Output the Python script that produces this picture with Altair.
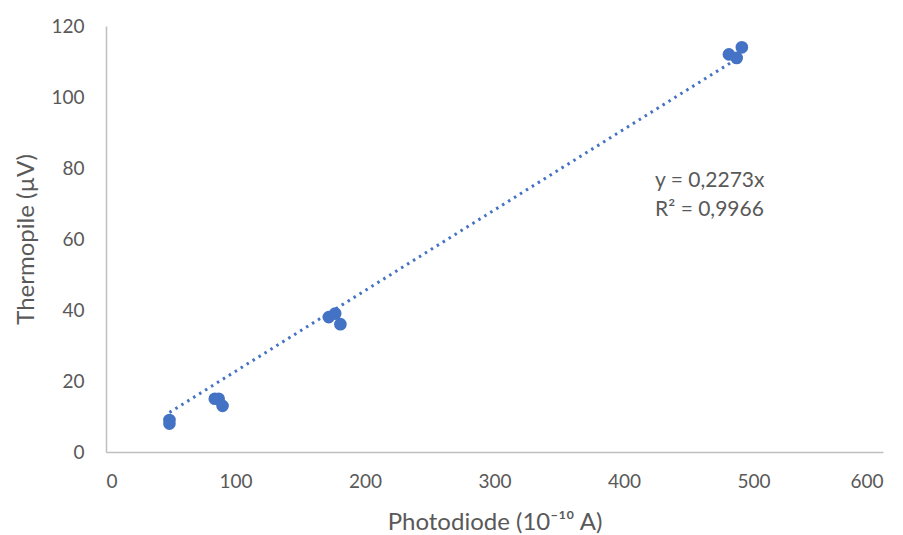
import altair as alt
import pandas as pd

photodiode = [49, 49, 84, 87, 90, 172, 177, 181, 481, 487, 491]
thermopile = [9, 8, 15, 15, 13, 38, 39, 36, 112, 111, 114]

slope = 0.2273
trend_x = [min(photodiode), max(photodiode)]
trend_y = [slope * v for v in trend_x]

eq_lines = ["y = 0,2273x", "R² = 0,9966"]
eq_x = [424, 424]
eq_y = [76.3, 68.1]

df = pd.DataFrame({"x": photodiode, "y": thermopile})
tdf = pd.DataFrame({"x": trend_x, "y": trend_y})
edf = pd.DataFrame({"x": eq_x, "y": eq_y, "t": eq_lines})

FONT = "Lato"
GRAY = "#595959"
BLUE = "#4472C4"

xs = alt.Scale(domain=[0, 600], nice=False, zero=True)
ys = alt.Scale(domain=[0, 120], nice=False, zero=True)

xaxis = alt.Axis(values=[0, 100, 200, 300, 400, 500, 600], title="Photodiode (10⁻¹⁰ A)",
                 grid=False, ticks=False, domainColor="#BFBFBF", domainWidth=1.5,
                 labelFont=FONT, labelFontSize=19, labelColor=GRAY, labelPadding=20,
                 titleFont=FONT, titleFontSize=24, titleColor=GRAY, titleFontWeight="normal",
                 titlePadding=19)
yaxis = alt.Axis(values=[0, 20, 40, 60, 80, 100, 120], title="Thermopile (µV)",
                 grid=False, ticks=False, domainColor="#BFBFBF", domainWidth=1.5,
                 labelFont=FONT, labelFontSize=19, labelColor=GRAY, labelPadding=22,
                 titleFont=FONT, titleFontSize=24, titleColor=GRAY, titleFontWeight="normal",
                 titlePadding=12)

points = alt.Chart(df).mark_circle(size=160, opacity=1, color=BLUE).encode(
    x=alt.X("x:Q", scale=xs, axis=xaxis),
    y=alt.Y("y:Q", scale=ys, axis=yaxis),
)

trend = alt.Chart(tdf).mark_line(color=BLUE, strokeWidth=3, strokeDash=[2.5, 4.5]).encode(
    x=alt.X("x:Q", scale=xs),
    y=alt.Y("y:Q", scale=ys),
)

eq = alt.Chart(edf).mark_text(align="left", baseline="middle", font=FONT, fontSize=21, color=GRAY).encode(
    x=alt.X("x:Q", scale=xs),
    y=alt.Y("y:Q", scale=ys),
    text="t:N",
)

chart = alt.layer(trend, points, eq).properties(
    width=777, height=426,
    background="white",
    autosize=alt.AutoSizeParams(type="none"),
    padding={"left": 98, "top": 18, "right": 10, "bottom": 82},
).configure_view(stroke=None, strokeWidth=0)

chart.save("out.html", embed_options={"renderer": "svg", "actions": False})
